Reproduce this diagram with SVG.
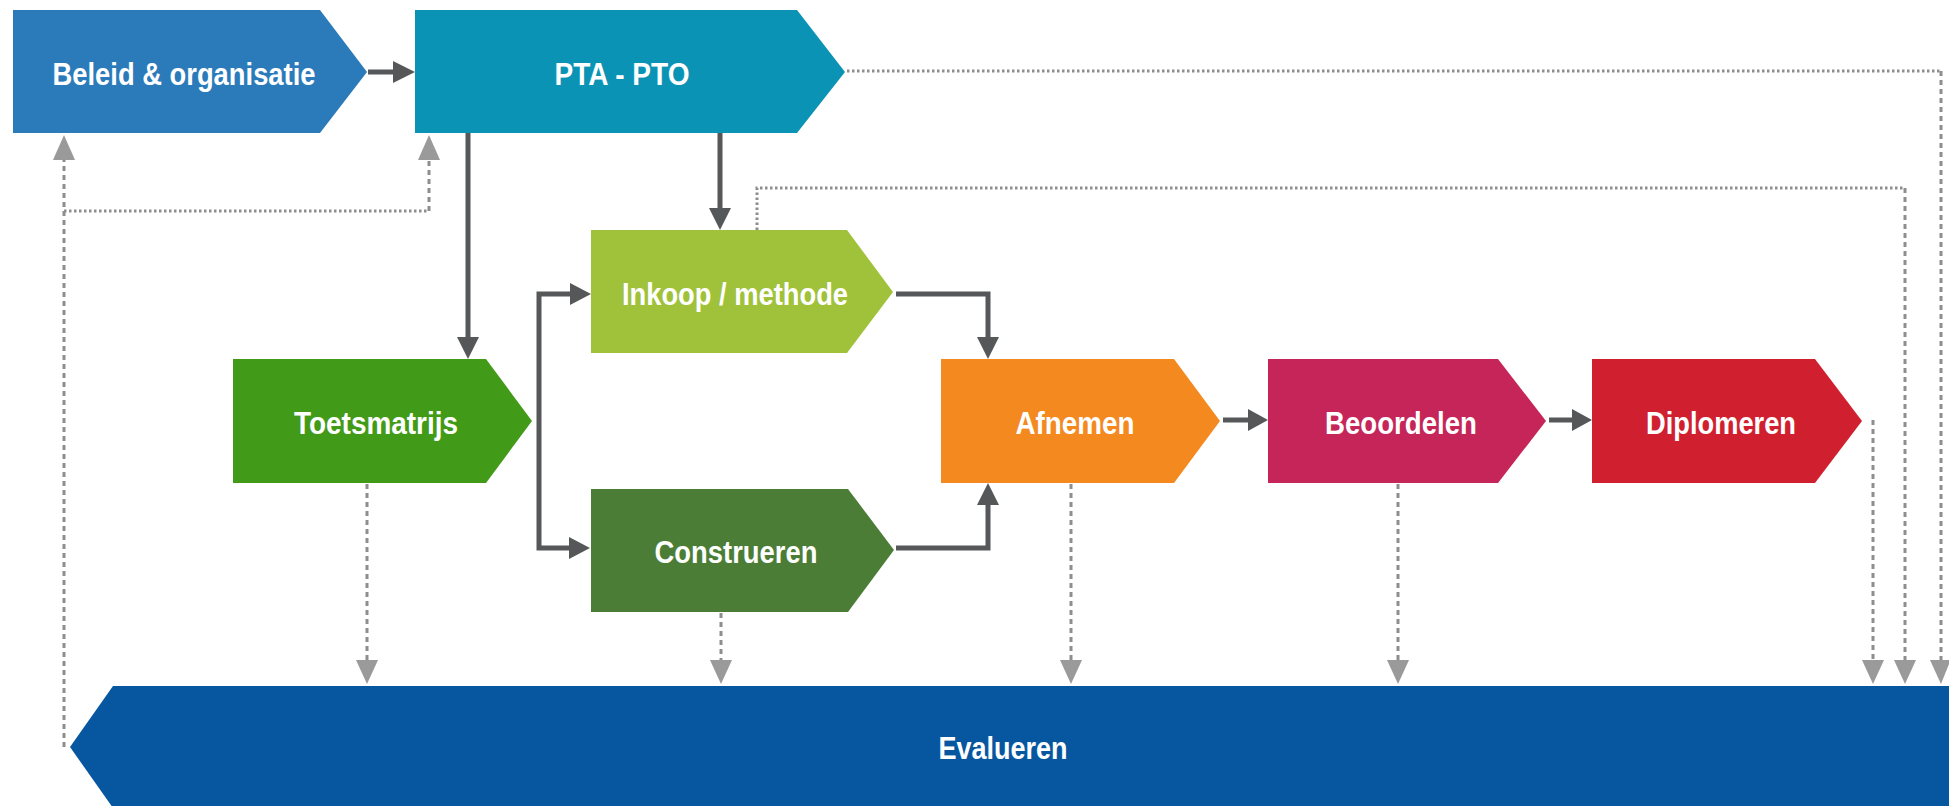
<svg xmlns="http://www.w3.org/2000/svg" width="1949" height="806" viewBox="0 0 1949 806">
<style>
.lbl{font-family:"Liberation Sans Narrow","Liberation Sans",Arial,sans-serif;font-weight:bold;font-size:32px;fill:#ffffff;text-anchor:middle}
.solid{fill:none;stroke:#555759;stroke-width:5}
.head{fill:#555759}
.dot{fill:none;stroke:#8e8e8e;stroke-width:3;stroke-dasharray:2.5 2.5}
.dash{fill:none;stroke:#8e8e8e;stroke-width:3;stroke-dasharray:5 4}
.ghead{fill:#9a9a9a}
</style>
<rect width="1949" height="806" fill="#ffffff"/>

<g id="connectors">
  <!-- solid flow -->
  <line class="solid" x1="368" y1="72" x2="395" y2="72"/>
  <polygon class="head" points="393,61 415,72 393,83"/>
  <line class="solid" x1="468" y1="133" x2="468" y2="339"/>
  <polygon class="head" points="457,337 468,359 479,337"/>
  <line class="solid" x1="720" y1="133" x2="720" y2="210"/>
  <polygon class="head" points="709,208 720,230 731,208"/>
  <polyline class="solid" points="572,294 539,294 539,548 572,548"/>
  <polygon class="head" points="570,283 591,294 570,305"/>
  <polygon class="head" points="569,537 590,548 569,559"/>
  <polyline class="solid" points="896,294 988,294 988,339"/>
  <polygon class="head" points="977,337 988,359 999,337"/>
  <polyline class="solid" points="896,548 988,548 988,503"/>
  <polygon class="head" points="977,505 988,483 999,505"/>
  <line class="solid" x1="1223" y1="420" x2="1250" y2="420"/>
  <polygon class="head" points="1248,409 1268,420 1248,431"/>
  <line class="solid" x1="1549" y1="420" x2="1574" y2="420"/>
  <polygon class="head" points="1572,409 1592,420 1572,431"/>

  <!-- evaluation feedback (dashed) -->
  <line class="dash" x1="367" y1="484" x2="367" y2="660"/>
  <polygon class="ghead" points="356,660 378,660 367,684"/>
  <line class="dash" x1="721" y1="613" x2="721" y2="660"/>
  <polygon class="ghead" points="710,660 732,660 721,684"/>
  <line class="dash" x1="1071" y1="484" x2="1071" y2="660"/>
  <polygon class="ghead" points="1060,660 1082,660 1071,684"/>
  <line class="dash" x1="1398" y1="484" x2="1398" y2="660"/>
  <polygon class="ghead" points="1387,660 1409,660 1398,684"/>
  <line class="dash" x1="1873" y1="420" x2="1873" y2="660"/>
  <polygon class="ghead" points="1862,660 1884,660 1873,684"/>
  <polyline class="dot" points="757,230 757,188 1905,188"/>
  <line class="dash" x1="1905" y1="188" x2="1905" y2="660"/>
  <polygon class="ghead" points="1894,660 1916,660 1905,684"/>
  <line class="dot" x1="847" y1="71" x2="1941" y2="71"/>
  <line class="dash" x1="1941" y1="71" x2="1941" y2="660"/>
  <polygon class="ghead" points="1930,660 1949,660 1949,664 1941,684"/>

  <line class="dash" x1="64" y1="747" x2="64" y2="158"/>
  <polygon class="ghead" points="53,160 75,160 64,135"/>
  <line class="dot" x1="64" y1="211" x2="429" y2="211"/>
  <line class="dash" x1="429" y1="211" x2="429" y2="158"/>
  <polygon class="ghead" points="418,160 440,160 429,135"/>
</g>

<g id="beleid">
  <polygon points="13,10 320,10 367,72 320,133 13,133" fill="#2b7bba"/>
  <text class="lbl" x="184" y="85" textLength="263" lengthAdjust="spacingAndGlyphs">Beleid &amp; organisatie</text>
</g>
<g id="pta-pto">
  <polygon points="415,10 797,10 845,72 797,133 415,133" fill="#0b93b6"/>
  <text class="lbl" x="622" y="85" textLength="135" lengthAdjust="spacingAndGlyphs">PTA - PTO</text>
</g>
<g id="inkoop">
  <polygon points="591,230 847,230 893,292 847,353 591,353" fill="#a0c23b"/>
  <text class="lbl" x="735" y="305" textLength="226" lengthAdjust="spacingAndGlyphs">Inkoop / methode</text>
</g>
<g id="toetsmatrijs">
  <polygon points="233,359 486,359 532,421 486,483 233,483" fill="#429b18"/>
  <text class="lbl" x="376" y="434" textLength="164" lengthAdjust="spacingAndGlyphs">Toetsmatrijs</text>
</g>
<g id="construeren">
  <polygon points="591,489 848,489 894,550 848,612 591,612" fill="#4b7d36"/>
  <text class="lbl" x="736" y="563" textLength="163" lengthAdjust="spacingAndGlyphs">Construeren</text>
</g>
<g id="afnemen">
  <polygon points="941,359 1174,359 1220,421 1174,483 941,483" fill="#f3891f"/>
  <text class="lbl" x="1075" y="434" textLength="119" lengthAdjust="spacingAndGlyphs">Afnemen</text>
</g>
<g id="beoordelen">
  <polygon points="1268,359 1498,359 1546,421 1498,483 1268,483" fill="#c52558"/>
  <text class="lbl" x="1401" y="434" textLength="152" lengthAdjust="spacingAndGlyphs">Beoordelen</text>
</g>
<g id="diplomeren">
  <polygon points="1592,359 1815,359 1862,421 1815,483 1592,483" fill="#d0202f"/>
  <text class="lbl" x="1721" y="434" textLength="150" lengthAdjust="spacingAndGlyphs">Diplomeren</text>
</g>
<g id="evalueren">
  <polygon points="113,686 1949,686 1949,808 113,808 70,747" fill="#0757a0"/>
  <text class="lbl" x="1003" y="759" textLength="129" lengthAdjust="spacingAndGlyphs">Evalueren</text>
</g>
</svg>
